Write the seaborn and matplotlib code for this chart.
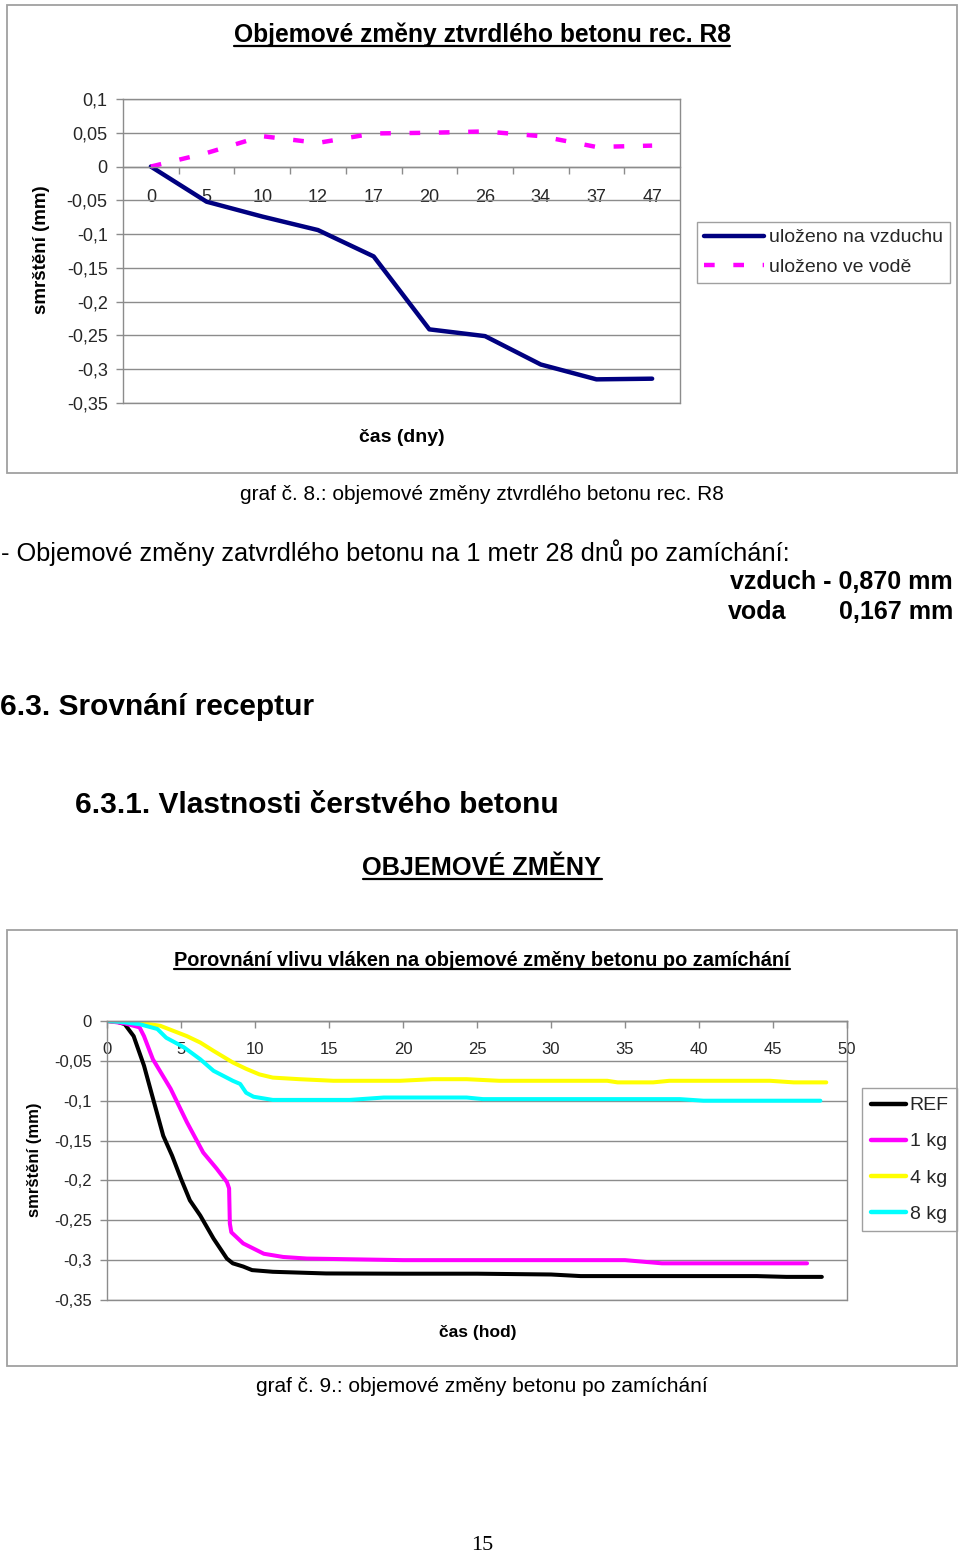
import matplotlib
matplotlib.use("Agg")
import matplotlib.pyplot as plt
import seaborn as sns
import pandas as pd
from matplotlib.patches import Rectangle
from matplotlib.lines import Line2D

# graf 8 - hardened concrete R8, shrinkage (mm) per day
days = ["0", "5", "10", "12", "17", "20", "26", "34", "37", "47"]
air = [0, -0.052, -0.074, -0.094, -0.133, -0.241, -0.251, -0.293, -0.315, -0.314]
water = [0, 0.02, 0.045, 0.035, 0.049, 0.05, 0.052, 0.045, 0.029, 0.031]
top_yticks = [0.1, 0.05, 0, -0.05, -0.1, -0.15, -0.2, -0.25, -0.3, -0.35]
top_ylabels = ["0,1", "0,05", "0", "-0,05", "-0,1", "-0,15", "-0,2", "-0,25", "-0,3", "-0,35"]

# graf 9 - fresh concrete, shrinkage (mm) per hour
ref_h = [0, 0.7, 1.2, 1.8, 2.5, 3.0, 3.8, 4.4, 5.0, 5.6, 6.3, 7.2, 8.1, 8.5, 9.2, 9.8,
         11.2, 14.8, 20, 25, 30, 32, 38, 43.9, 45.9, 48.3]
ref_v = [0, -0.001, -0.004, -0.019, -0.056, -0.09, -0.144, -0.169, -0.198, -0.225, -0.244,
         -0.273, -0.298, -0.304, -0.308, -0.3125, -0.3146, -0.3167, -0.317, -0.317, -0.318,
         -0.32, -0.32, -0.32, -0.321, -0.321]
kg1_h = [0, 1.2, 2.2, 2.5, 3.1, 4.3, 5.4, 6.5, 7.4, 8.1, 8.25, 8.3, 8.4, 9.2, 10.6, 11.9,
         13.5, 20, 30, 35, 37.5, 47.3]
kg1_v = [0, -0.003, -0.008, -0.019, -0.048, -0.085, -0.127, -0.165, -0.185, -0.202, -0.21,
         -0.254, -0.265, -0.279, -0.292, -0.296, -0.298, -0.3, -0.3, -0.3, -0.304, -0.304]
kg4_h = [0, 1.8, 3.6, 5.4, 6.3, 7.2, 8.5, 9.4, 10.3, 11.2, 13, 15.3, 19.8, 22, 24.3, 26.5,
         30.6, 33.8, 34.5, 36.9, 38, 44.8, 46.4, 48.6]
kg4_v = [0, -0.001, -0.006, -0.019, -0.027, -0.0375, -0.052, -0.06, -0.067, -0.071, -0.073,
         -0.075, -0.075, -0.073, -0.073, -0.075, -0.075, -0.075, -0.077, -0.077, -0.075,
         -0.075, -0.077, -0.077]
kg8_h = [0, 0.9, 2.2, 3.4, 4.0, 5.2, 6.3, 7.2, 8.5, 9.0, 9.4, 9.9, 11.2, 16.4, 18.7, 24.3,
         25.4, 30.6, 38.7, 40.3, 48.2]
kg8_v = [0, -0.001, -0.004, -0.010, -0.021, -0.033, -0.048, -0.0625, -0.075, -0.079, -0.09,
         -0.095, -0.099, -0.099, -0.096, -0.096, -0.098, -0.098, -0.098, -0.1, -0.1]
bot_xticks = [0, 5, 10, 15, 20, 25, 30, 35, 40, 45, 50]
bot_yticks = [0, -0.05, -0.1, -0.15, -0.2, -0.25, -0.3, -0.35]
bot_ylabels = ["0", "-0,05", "-0,1", "-0,15", "-0,2", "-0,25", "-0,3", "-0,35"]

sns.set_theme(style="white")
plt.rcParams["font.family"] = ["Liberation Sans", "DejaVu Sans"]

W, H = 960, 1556
GRID = "#8c8c8c"
FRAME = "#a0a0a0"
fig = plt.figure(figsize=(W / 100, H / 100), dpi=100)


def fx(px):
    return px / W


def fy(py):
    return 1 - py / H


def frame(x0, y0, x1, y1):
    fig.patches.append(Rectangle((fx(x0), fy(y1)), fx(x1) - fx(x0), fy(y0) - fy(y1),
                                 transform=fig.transFigure, fill=False, ec=FRAME, lw=1.3))


def text(x, y, s, size, ha="center", **kw):
    return fig.text(fx(x), fy(y), s, ha=ha, va="center", fontsize=size, color="black", **kw)


def style_axes(ax, ticksize, ymin):
    ax.set_axisbelow(True)
    ax.grid(axis="y", color=GRID, lw=1)
    ax.grid(axis="x", visible=False)
    # bottom edge of the plot area (spine is moved up to y=0)
    ax.axhline(ymin, color=GRID, lw=1, clip_on=False, zorder=0.5)
    for sp in ax.spines.values():
        sp.set_color(GRID)
        sp.set_linewidth(1)
    ax.spines["bottom"].set_position(("data", 0))
    ax.tick_params(axis="y", left=True, length=5, width=1, color=GRID, direction="out",
                   labelsize=ticksize, pad=6)
    ax.set_xlabel("")
    ax.set_ylabel("")


# ── graf 8 ──────────────────────────────────────────────────────────────
frame(7, 5, 957, 473)
ax1 = fig.add_axes([fx(123), fy(403), fx(680) - fx(123), fy(99) - fy(403)])
df1 = pd.DataFrame({"den": days, "vzduch": air, "voda": water})
sns.lineplot(data=df1, x="den", y="vzduch", sort=False, estimator=None, color="#000080",
             lw=3.2, ax=ax1, label="uloženo na vzduchu")
sns.lineplot(data=df1, x="den", y="voda", sort=False, estimator=None, color="#ff00ff",
             lw=3.2, linestyle=(0, (2.4, 4.2)), ax=ax1, label="uloženo ve vodě")
ax1.set_ylim(-0.35, 0.1)
ax1.set_xlim(-0.5, len(days) - 0.5)
ax1.set_yticks(top_yticks, top_ylabels)
ax1.set_xticks(range(len(days)), days)
ax1.set_xticks([i + 0.5 for i in range(len(days) - 1)], minor=True)
style_axes(ax1, 13, -0.35)
ax1.tick_params(axis="x", which="major", bottom=True, length=0, labelsize=13, pad=16)
ax1.tick_params(axis="x", which="minor", bottom=True, length=5, width=1, color=GRID,
                direction="out")
leg1 = ax1.legend(loc="upper left", bbox_to_anchor=(fx(697), fy(222)),
                  bbox_transform=fig.transFigure, frameon=True, fancybox=False,
                  edgecolor=FRAME, framealpha=1, fontsize=14, handlelength=3.1,
                  handletextpad=0.25, borderpad=0.35, labelspacing=0.6, borderaxespad=0)
leg1.get_frame().set_linewidth(1)

t1 = text(482, 35, "Objemové změny ztvrdlého betonu rec. R8", 17.7, fontweight="bold")
text(42, 250, "smrštění (mm)", 13.5, rotation=90, fontweight="bold")
text(402, 437, "čas (dny)", 14, fontweight="bold")
text(482, 494, "graf č. 8.: objemové změny ztvrdlého betonu rec. R8", 15)

# ── body text ───────────────────────────────────────────────────────────
text(1, 553, "- Objemové změny zatvrdlého betonu na 1 metr 28 dnů po zamíchání:", 18.3, ha="left")
text(953, 582, "vzduch - 0,870 mm", 18, ha="right", fontweight="bold")
text(728, 612, "voda", 18, ha="left", fontweight="bold")
text(953, 612, "0,167 mm", 18, ha="right", fontweight="bold")
text(0, 707, "6.3. Srovnání receptur", 21.5, ha="left", fontweight="bold")
text(75, 805, "6.3.1. Vlastnosti čerstvého betonu", 21.5, ha="left", fontweight="bold")
t2 = text(482, 868, "OBJEMOVÉ ZMĚNY", 18.2, fontweight="bold")

# ── graf 9 ──────────────────────────────────────────────────────────────
frame(7, 930, 957, 1366)
ax2 = fig.add_axes([fx(107), fy(1300), fx(847) - fx(107), fy(1021) - fy(1300)])
series = [("REF", ref_h, ref_v, "black"), ("1 kg", kg1_h, kg1_v, "#ff00ff"),
          ("4 kg", kg4_h, kg4_v, "#ffff00"), ("8 kg", kg8_h, kg8_v, "#00ffff")]
for name, hrs, vals, col in series:
    sns.lineplot(x=hrs, y=vals, sort=False, estimator=None, color=col, lw=2.9, ax=ax2,
                 label=name)
ax2.set_xlim(0, 50)
ax2.set_ylim(-0.35, 0)
ax2.set_yticks(bot_yticks, bot_ylabels)
ax2.set_xticks(bot_xticks, [str(v) for v in bot_xticks])
style_axes(ax2, 12, -0.35)
ax2.tick_params(axis="x", bottom=True, length=5, width=1, color=GRID, direction="out",
                labelsize=12, pad=10)
leg2 = ax2.legend(loc="upper left", bbox_to_anchor=(fx(862), fy(1088)),
                  bbox_transform=fig.transFigure, frameon=True, fancybox=False,
                  edgecolor=FRAME, framealpha=1, fontsize=14, handlelength=1.8,
                  handletextpad=0.2, borderpad=0.45, labelspacing=0.95, borderaxespad=0)
leg2.get_frame().set_linewidth(1)
for ln in leg2.get_lines():
    ln.set_linewidth(3.2)

t3 = text(482, 960, "Porovnání vlivu vláken na objemové změny betonu po zamíchání", 14.4,
          fontweight="bold")
text(35, 1160, "smrštění (mm)", 12, rotation=90, fontweight="bold")
text(478, 1332, "čas (hod)", 12.5, fontweight="bold")
text(482, 1387, "graf č. 9.: objemové změny betonu po zamíchání", 15)
text(482, 1545, "15", 16, family=["Liberation Serif", "DejaVu Serif"])

# underlines below the underlined headings
fig.canvas.draw()
renderer = fig.canvas.get_renderer()
for t in (t1, t2, t3):
    bb = t.get_window_extent(renderer)
    y = (bb.y0 + 1) / H
    fig.add_artist(Line2D([bb.x0 / W, bb.x1 / W], [y, y], transform=fig.transFigure,
                          color="black", lw=1.6))

fig.savefig("out.png", dpi=100)
plt.close(fig)
